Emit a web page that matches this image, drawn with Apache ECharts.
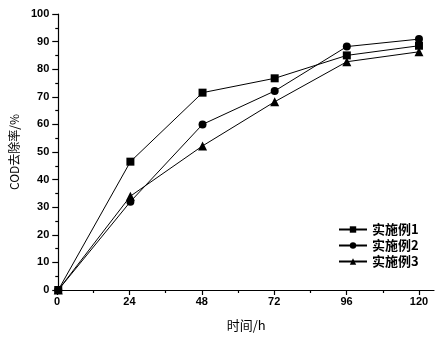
<!DOCTYPE html>
<html><head><meta charset="utf-8">
<script src="https://cdn.jsdelivr.net/npm/echarts@6/dist/echarts.min.js"></script>
<style>html,body{margin:0;padding:0;background:#fff}#c{width:442px;height:339px}</style>
</head><body><div id="c"></div>
<script>
var hours = [0, 24, 48, 72, 96, 120];
var seriesNames = ['实施例1', '实施例2', '实施例3'];
var ex1 = [0, 46.5, 71.5, 76.7, 85.0, 88.5];
var ex2 = [0, 32.0, 60.0, 72.1, 88.2, 90.9];
var ex3 = [0, 34.0, 52.2, 68.2, 82.7, 86.3];
var yTicks = [0, 10, 20, 30, 40, 50, 60, 70, 80, 90, 100];
var xTicks = [0, 24, 48, 72, 96, 120];

var font = 'Liberation Sans, Arial, Noto Sans CJK SC, sans-serif';
var cjk = 'Noto Sans CJK SC, sans-serif';
function pairs(arr){ return hours.map(function(h,i){ return [h, arr[i]]; }); }
var chart = echarts.init(document.getElementById('c'));
var axisLine = {show:true, lineStyle:{color:'#000', width:1.2}};
chart.setOption({
  animation:false,
  backgroundColor:'#fff',
  grid:[
    {left:57, right:8, top:14, bottom:49, containLabel:false},
    {left:57, right:23, top:14, bottom:49, containLabel:false}
  ],
  legend:{
    orient:'vertical', left:333, top:218, itemWidth:28, itemHeight:8, itemGap:3,
    textStyle:{fontFamily:cjk, fontSize:13, color:'#000', fontWeight:'bold'},
    data:seriesNames
  },
  xAxis:[
    {gridIndex:0, type:'value', min:0, max:125, axisLine:axisLine, axisTick:{show:false}, axisLabel:{show:false}, splitLine:{show:false},
     name:'时间/h', nameLocation:'middle', nameGap:29, nameTextStyle:{fontFamily:cjk, fontSize:13, color:'#000'}},
    {gridIndex:1, type:'value', min:xTicks[0], max:xTicks[xTicks.length-1], interval:24, axisLine:{show:false},
     axisTick:{show:true, inside:false, length:5, lineStyle:{color:'#000', width:1.2}},
     minorTick:{show:true, splitNumber:2, length:3, lineStyle:{color:'#000', width:1.2}},
     axisLabel:{color:'#000', fontFamily:font, fontSize:11, fontWeight:'bold', margin:6}, splitLine:{show:false}}
  ],
  yAxis:[
    {gridIndex:0, type:'value', min:yTicks[0], max:yTicks[yTicks.length-1], interval:10, axisLine:axisLine,
     axisTick:{show:true, inside:false, length:6, lineStyle:{color:'#000', width:1.2}},
     minorTick:{show:true, splitNumber:2, length:3, lineStyle:{color:'#000', width:1.2}},
     axisLabel:{color:'#000', fontFamily:font, fontSize:11, fontWeight:'bold', margin:9}, splitLine:{show:false},
     name:'COD去除率/%', nameLocation:'middle', nameGap:35, nameTextStyle:{fontFamily:cjk, fontSize:12, color:'#000'}},
    {gridIndex:1, type:'value', min:0, max:100, show:false}
  ],
  series:[
    {name:seriesNames[0], type:'line', xAxisIndex:0, yAxisIndex:0, data:pairs(ex1), symbol:'rect', symbolSize:8,
     itemStyle:{color:'#000'}, lineStyle:{color:'#000', width:1}},
    {name:seriesNames[1], type:'line', xAxisIndex:0, yAxisIndex:0, data:pairs(ex2), symbol:'circle', symbolSize:8,
     itemStyle:{color:'#000'}, lineStyle:{color:'#000', width:1}},
    {name:seriesNames[2], type:'line', xAxisIndex:0, yAxisIndex:0, data:pairs(ex3), symbol:'triangle', symbolSize:9,
     itemStyle:{color:'#000'}, lineStyle:{color:'#000', width:1}}
  ]
});
</script></body></html>
